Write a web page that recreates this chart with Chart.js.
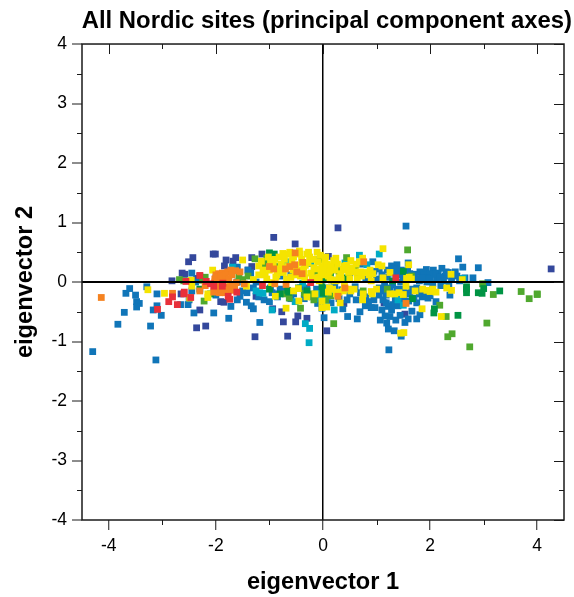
<!DOCTYPE html>
<html><head><meta charset="utf-8">
<style>html,body{margin:0;padding:0;background:#fff}#w{width:574px;height:597px}</style>
<script src="https://cdn.jsdelivr.net/npm/chart.js@4"></script></head>
<body><div id="w"><canvas id="c"></canvas></div>
<script>
const chartTitle = "All Nordic sites (principal component axes)";
const xLabel = "eigenvector 1", yLabel = "eigenvector 2";
const xMajorTicks = [-4,-2,0,2,4], xMinorTicks = [-3,-1,1,3];
const yMajorTicks = [-4,-3,-2,-1,0,1,2,3,4], yMinorTicks = [-3.5,-2.5,-1.5,-0.5,0.5,1.5,2.5,3.5];

const red = [[-2.88,-0.33],[-2.81,-0.25],[-2.72,-0.38],[-2.59,-0.17],[-2.60,-0.2],[-2.47,-0.26],[-3.09,-0.46],[-2.56,0.01],[-2.3,0.11],[-2.18,0.01],[-2.04,-0.07],[-1.88,-0.07],[-1.87,-0.02],[-1.77,-0.24],[-1.74,-0.29],[-1.61,-0.17],[-1.13,-0.06],[-0.23,-0.01],[1.36,0.07],[-2.1,-0.03]];
const yellow = [[-3.27,-0.13],[-2.96,-0.19],[-2.49,-0.27],[-2.45,-0.07],[-2.46,0.03],[-2.06,0.2],[-2.15,-0.2],[-2.15,-0.26],[-1.5,0.37],[-1.73,-0.07],[-1.43,-0.07],[-1.3,0.04],[-1.2,0.12],[-1.12,0.2],[-1.15,0.35],[-1.2,0.27],[-1.05,0.05],[-1.0,0.2],[-0.96,-0.01],[-0.93,0.28],[-0.86,0.12],[-0.82,0.42],[-0.78,0.3],[-0.74,0.16],[-0.66,0.26],[-0.68,0.05],[-0.65,0.47],[-0.58,0.36],[-0.56,0.2],[-0.52,0.12],[-0.5,0.28],[-0.46,-0.11],[-0.43,0.47],[-0.4,0.38],[-0.36,0.22],[-0.34,0.07],[-0.3,0.47],[-0.28,0.32],[-0.25,0.42],[-0.22,0.15],[-0.17,0.24],[-0.15,-0.2],[-0.1,0.34],[-0.08,0.08],[-0.05,0.45],[-0.04,0.18],[-0.02,-0.43],[-0.02,0.26],[0.0,0.12],[0.03,0.35],[0.05,0.42],[0.06,0.22],[0.1,0.1],[0.12,-0.1],[0.13,0.05],[0.16,0.03],[0.18,-0.12],[0.2,0.36],[0.23,0.02],[0.24,0.4],[0.25,-0.2],[0.27,0.3],[0.3,0.07],[0.3,-0.17],[0.32,-0.35],[0.34,0.04],[0.4,0.27],[0.42,0.2],[0.44,0.28],[0.46,-0.12],[0.5,0.05],[0.52,0.36],[0.54,0.24],[0.58,-0.12],[0.62,0.3],[0.64,0.06],[0.68,0.34],[0.72,0.1],[0.74,0.4],[0.74,-0.3],[0.8,0.16],[0.86,0.12],[0.88,0.2],[0.9,0.02],[0.9,-0.16],[0.93,0.14],[0.92,-0.2],[1.03,0.29],[1.1,0.27],[1.12,0.07],[1.12,0.56],[1.25,0.16],[1.34,-0.2],[1.42,-0.18],[1.5,-0.21],[1.51,-0.85],[1.56,0.06],[1.61,0.08],[1.55,-0.07],[1.6,0.29],[1.85,-0.45],[1.86,-0.12],[1.94,-0.14],[2.0,-0.16],[2.05,-0.12],[2.11,-0.17],[2.21,-0.58],[2.31,-0.1],[2.4,-0.14],[2.39,0.13],[2.6,0.04],[1.45,-0.86],[-0.89,-0.24],[-0.55,-0.15],[-0.45,-0.32],[-0.69,-0.44],[-0.3,-0.25],[-0.02,-0.32],[0.4,-0.07],[0.26,0.03],[0.07,-0.42],
[-0.98,0.34],[-0.9,0.38],[-0.8,0.22],[-0.72,0.38],[-0.6,0.08],[-0.55,0.42],[-0.46,0.2],[-0.44,0.52],[-0.35,0.14],[-0.33,0.28],[-0.27,0.5],[-0.2,0.06],[-0.18,0.38],[-0.12,0.22],[-0.11,0.5],[-0.07,0.02],[0.08,0.3],[0.12,0.18],[0.15,0.27],[0.22,0.2],[0.33,0.14],[0.38,0.21],[0.48,0.16],[0.6,0.17],[0.7,0.17],[0.1,-0.17],[0.38,-0.15],[0.52,-0.15],[0.75,-0.2],[1.0,-0.12],[1.25,-0.2],[1.65,0.05],[1.72,-0.15],[-1.02,0.42],[-0.75,0.48],[-0.62,0.5],[-0.88,0.08],[-0.42,0.1],[-0.15,0.06],[-1.08,0.12]];
const orange = [[-4.14,-0.26],[-2.81,-0.19],[-2.3,-0.15],[-2.2,-0.06],[-2.0,0.12],[-2.02,0.05],[-1.95,0.14],[-1.88,0.15],[-1.78,0.17],[-1.72,0.2],[-1.63,0.19],[-1.55,0.17],[-1.93,0.03],[-1.85,0.08],[-1.98,-0.14],[-2.04,-0.17],[-1.93,-0.18],[-1.86,-0.17],[-1.8,-0.13],[-1.72,-0.14],[-1.65,-0.09],[-1.62,-0.01],[-1.47,-0.03],[-1.0,0.26],[-0.92,0.22],[-0.7,0.22],[-0.62,0.26],[-0.53,0.29],[-0.49,0.17],[-0.52,0.49],[-0.39,0.14],[-0.38,0.33],[-0.9,-0.03],[-0.69,-0.04],[0.41,-0.1],[0.28,-0.24],[0.76,0.34],[1.55,-0.36],[-2.02,0.0],[-1.96,-0.03],[-1.98,0.08],[-1.9,0.1],[-1.82,0.12],[-1.76,0.05],[-1.7,0.12],[-1.98,-0.09],[-1.9,-0.12],[-1.82,-0.18],[-1.78,-0.08],[-1.7,-0.05]];
const lightGreen = [[-2.68,0.04],[-2.22,-0.32],[-2.25,0.03],[-1.5,0.04],[-1.57,0.08],[-1.27,0.39],[-1.08,0.31],[-0.9,0.26],[-0.63,-0.27],[-0.42,-0.44],[-0.35,-0.19],[-0.17,-0.3],[-0.15,0.18],[-0.06,0.38],[0.15,-0.23],[0.44,0.41],[0.2,0.25],[0.3,0.18],[0.2,-0.7],[0.75,-0.15],[1.2,-0.12],[1.58,0.54],[1.65,0.1],[2.18,-0.39],[2.3,-0.58],[2.41,-0.87],[2.33,-0.92],[2.74,-1.09],[3.06,-0.69],[3.18,-0.21],[3.7,-0.16],[3.85,-0.28],[4.0,-0.2],[4.0,-0.21],[0.65,0.15],[0.6,0.22],[2.98,-0.03],[-2.6,0.02],[-2.2,0.08],[-1.4,0.1],[-1.05,0.4],[-0.7,-0.2],[-0.2,-0.2],[0.05,-0.3],[0.08,0.2]];
const darkGreen = [[-1.0,0.49],[-0.91,0.47],[-0.66,-0.14],[-0.64,-0.17],[-0.46,-0.1],[0.0,0.41],[0.0,-0.19],[0.1,0.12],[0.2,0.03],[0.14,0.15],[0.4,0.07],[1.3,0.02],[1.5,0.18],[1.67,-0.28],[2.07,-0.52],[2.08,-0.45],[2.52,-0.56],[2.68,-0.08],[2.68,-0.12],[2.68,-0.18],[2.9,-0.18],[2.97,-0.19],[3.0,-0.11],[3.3,-0.15],[-2.3,-0.12],[-2.1,-0.2],[-1.0,-0.12],[-0.8,-0.2],[-0.3,-0.15],[-0.05,0.15],[0.05,0.05],[-0.02,-0.08]];
const cyan = [[-4.70,-0.60],[-0.26,-1.02],[-0.25,-0.78],[-0.33,-0.70],[-0.95,-0.47],[-0.52,-0.33],[-1.18,-0.18],[-1.12,-0.19],[-0.68,0.34],[-0.23,0.31],[-1.69,0.25],[-0.15,-0.28],[-0.09,-0.19],[1.05,0.47],[0.21,-0.47],[1.40,-0.30],[1.50,-0.39],[0.41,0.32],[0.82,0.29],[0.01,-0.30],[0.04,-0.39],[0.68,0.45],[2.62,0.06],[-0.38,-0.02],[0.0,-0.15],[0.1,-0.2],[-1.25,-0.15],[-0.05,-0.25],[0.08,-0.25]];
const blue = [[-4.30,-1.17],[-3.12,-1.31],[-3.83,-0.71],[-3.71,-0.51],[-3.68,-0.19],[-3.61,-0.11],[-3.50,-0.22],[-3.48,-0.33],[-3.43,-0.36],[-3.48,-0.42],[-3.22,-0.74],[-3.17,-0.47],[-3.10,-0.40],[-3.02,-0.56],[-3.29,-0.08],[-3.10,-0.20],[-2.41,-0.52],[-2.04,-0.52],[-1.76,-0.61],[-1.18,-0.68],[-1.72,-0.41],[-1.30,-0.45],[-1.34,-0.40],[-1.43,-0.34],[-1.6,-0.3],[-1.55,-0.24],[-1.42,-0.18],[-1.1,-0.3],[-1.0,-0.33],[-0.88,-0.2],[-0.85,-0.25],[-2.5,-0.3],[-2.66,-0.38],[-2.52,-0.38],[-2.45,0.15],[-2.45,-0.15],[-1.35,0.15],[-1.4,0.2],[-1.6,0.25],[-0.98,-0.1],[-0.7,-0.15],[-0.55,-0.2],[-0.42,-0.1],[-0.3,-0.1],[-0.2,-0.25],[-0.1,-0.36],[0.0,-0.25],[0.02,-0.6],[1.55,0.94],[2.53,0.39],[2.61,0.25],[2.90,0.24],[2.80,0.07],[2.65,0.07],[3.08,-0.01],[0.93,0.34],[1.23,-1.14],[1.46,-0.91],[1.33,-0.82],[1.22,-0.79],[1.53,-0.68],[1.59,-0.62],[1.19,-0.69],[1.07,-0.64],[1.36,-0.64],[1.75,-0.62],[1.81,-0.55],[1.66,-0.49],[1.44,-0.56],[1.25,-0.58],[1.16,-0.57],[1.28,-0.47],[1.10,-0.47],[1.22,-0.41],[0.97,-0.43],[0.90,-0.43],[0.69,-0.50],[0.64,-0.62],[0.46,-0.58],[0.37,-0.45],[0.62,-0.30],[0.79,-0.40],[2.37,-0.22],[2.11,-0.33],[1.96,-0.27],[1.75,-0.35],[1.38,0.29],[1.59,0.32],[1.81,0.17],[1.93,0.21],[2.06,0.20],[2.22,0.23],[2.34,0.16],[2.47,0.17],[2.12,0.06],[1.94,0.0],[2.28,0.1],[1.28,0.27],[1.2,0.2],[1.05,0.22],[0.95,0.18],[1.45,0.2],[1.7,0.13],[1.88,0.12],[2.0,0.14],[2.15,0.15],[2.25,0.02],[2.4,0.07],[2.5,0.1],[2.55,0.02],[1.05,-0.1],[1.15,-0.05],[1.25,-0.15],[1.35,-0.28],[1.5,-0.12],[1.62,-0.2],[1.75,-0.1],[1.85,-0.25],[1.95,0.07],[1.05,-0.22],[1.12,-0.3],[0.8,-0.25],[0.7,-0.18],[0.6,-0.08],[0.5,-0.2],[0.35,-0.13],[0.22,-0.06],[0.5,0.15],[0.7,0.3],[0.8,0.05],[0.3,0.2],[0.15,0.2],[1.68,0.05],[1.8,0.02],[2.05,-0.03],[2.2,-0.06],[2.35,-0.05],[1.45,0.0],[1.3,-0.38],[1.5,-0.28],[-0.6,0.12],[-0.8,0.1],[-1.25,0.0],[-1.6,0.0],[-2.0,0.07],[-2.38,0.0],
[1.1,0.12],[1.2,0.08],[1.3,0.15],[1.35,0.22],[1.42,0.12],[1.5,0.1],[1.58,0.2],[1.62,0.14],[1.75,0.06],[1.85,0.07],[2.0,0.05],[2.1,0.13],[2.18,0.08],[2.3,0.17],[2.42,0.13],[1.0,0.05],[1.1,-0.15],[1.18,-0.22],[1.22,-0.1],[1.3,-0.05],[1.38,-0.12],[1.42,-0.22],[1.55,-0.18],[1.65,-0.12],[1.7,-0.27],[1.8,-0.2],[1.9,-0.18],[2.0,-0.23],[0.95,-0.3],[0.85,-0.33],[1.18,-0.35],[1.4,-0.4],[1.6,-0.32],[-2.0,-0.22],[-1.5,-0.15],[-1.3,-0.1],[-1.2,-0.25],[-0.95,-0.18],[-0.8,-0.12],[-0.6,-0.28],[-0.35,-0.28],[-0.12,-0.12],[0.1,-0.1],[0.3,-0.28],[0.45,-0.3],[-0.02,-0.44],[0.15,-0.35]];
const navy = [[-0.92,0.75],[-0.52,0.64],[-0.13,0.64],[-2.05,0.47],[-2.01,0.47],[-2.43,0.41],[-2.51,0.34],[-1.81,0.37],[-1.84,0.27],[-1.68,0.35],[-1.63,0.41],[-1.33,0.41],[-1.14,0.47],[-2.63,0.15],[-2.58,0.13],[-2.82,0.02],[-2.30,0.10],[-2.36,0.06],[-2.30,-0.47],[-2.36,-0.77],[-2.19,-0.74],[-1.27,-0.92],[-0.66,-0.91],[-0.74,-0.67],[-0.77,-0.50],[-0.94,-0.45],[-0.51,-0.67],[-0.47,-0.57],[-0.30,-0.61],[-1.91,-0.33],[-1.85,-0.34],[-2.65,-0.20],[-1.25,-0.24],[-1.40,0.20],[-1.33,0.26],[0.28,0.91],[4.26,0.22],[0.07,-0.82],[0.39,-0.36],[1.14,-0.35],[1.53,-0.54],[0.1,0.43]];

const toPts = a => a.map(p => ({x:p[0], y:p[1]}));
const mk = (data,color) => ({data:toPts(data), backgroundColor:color, borderWidth:0, pointStyle:'rect', pointRadius:4.8, pointHoverRadius:4.8});
const ink = '#1a1a1a';

const frame = {
  id:'frame',
  afterDraw(ch){
    const c = ch.ctx, {left:l,right:r,top:t,bottom:b} = ch.chartArea, X = ch.scales.x, Y = ch.scales.y;
    c.save(); c.strokeStyle = ink; c.lineWidth = 1;
    c.beginPath();
    xMajorTicks.forEach(v=>{const p=Math.round(X.getPixelForValue(v))+.5; c.moveTo(p,t); c.lineTo(p,t+10);});
    xMinorTicks.forEach(v=>{const p=Math.round(X.getPixelForValue(v))+.5; c.moveTo(p,t); c.lineTo(p,t+5); c.moveTo(p,b); c.lineTo(p,b+5);});
    yMajorTicks.forEach(v=>{const p=Math.round(Y.getPixelForValue(v))+.5; c.moveTo(r,p); c.lineTo(r-10,p);});
    yMinorTicks.forEach(v=>{const p=Math.round(Y.getPixelForValue(v))+.5; c.moveTo(r,p); c.lineTo(r-5,p); c.moveTo(l,p); c.lineTo(l-5,p);});
    c.stroke();
    c.lineWidth = 1.5; c.strokeRect(l,t,r-l,b-t);
    c.restore();
  }
};
const zeroLine = (ctx) => ctx.tick && ctx.tick.value===0 ? '#000' : 'rgba(0,0,0,0)';
const fontTick = {family:'"Liberation Sans"', size:17.5};
const fontTitle = {family:'"Liberation Sans"', size:23.85, weight:'bold'};
const fontAxis = {family:'"Liberation Sans"', size:23.6, weight:'bold'};
new Chart(document.getElementById('c'),{
  type:'scatter',
  data:{datasets:[mk(red,'#e8303a'),mk(orange,'#f58220'),mk(yellow,'#f5e400'),mk(darkGreen,'#009444'),mk(lightGreen,'#4fa82e'),mk(cyan,'#00abc5'),mk(blue,'#1075b8'),mk(navy,'#34489c')]},
  options:{
    responsive:true, maintainAspectRatio:false, animation:false,
    layout:{padding:{top:7,right:2,bottom:0,left:11}},
    plugins:{legend:{display:false},tooltip:{enabled:false},
      title:{display:true,text:chartTitle,align:'end',fullSize:true,color:'#000',font:fontTitle,padding:{top:0,bottom:8.4}}},
    scales:{
      x:{type:'linear',min:-4.5,max:4.5,
        afterBuildTicks(s){s.ticks=xMajorTicks.map(v=>({value:v}));},
        afterFit(s){s.height=77;},
        ticks:{color:'#000',font:fontTick,maxRotation:0,padding:6,callback:v=>String(v)},
        border:{display:false},
        grid:{color:zeroLine,lineWidth:1.5,tickColor:ink,tickLength:10,tickWidth:1},
        title:{display:true,text:xLabel,color:'#000',font:fontAxis,padding:{top:10,bottom:0}}},
      y:{type:'linear',min:-4,max:4,
        afterBuildTicks(s){s.ticks=yMajorTicks.map(v=>({value:v}));},
        afterFit(s){s.width=71;},
        ticks:{color:'#000',font:fontTick,padding:5,callback:v=>String(v)},
        border:{display:false},
        grid:{color:zeroLine,lineWidth:2,tickColor:ink,tickLength:10,tickWidth:1,z:1},
        title:{display:true,text:yLabel,color:'#000',font:fontAxis,padding:{top:0,bottom:0}}},
      yRight:{type:'linear',position:'right',min:-4,max:4,display:true,
        afterFit(s){s.width=8;},
        ticks:{display:false},border:{display:false},grid:{display:false}}
    }
  },
  plugins:[frame]
});
</script></body></html>
